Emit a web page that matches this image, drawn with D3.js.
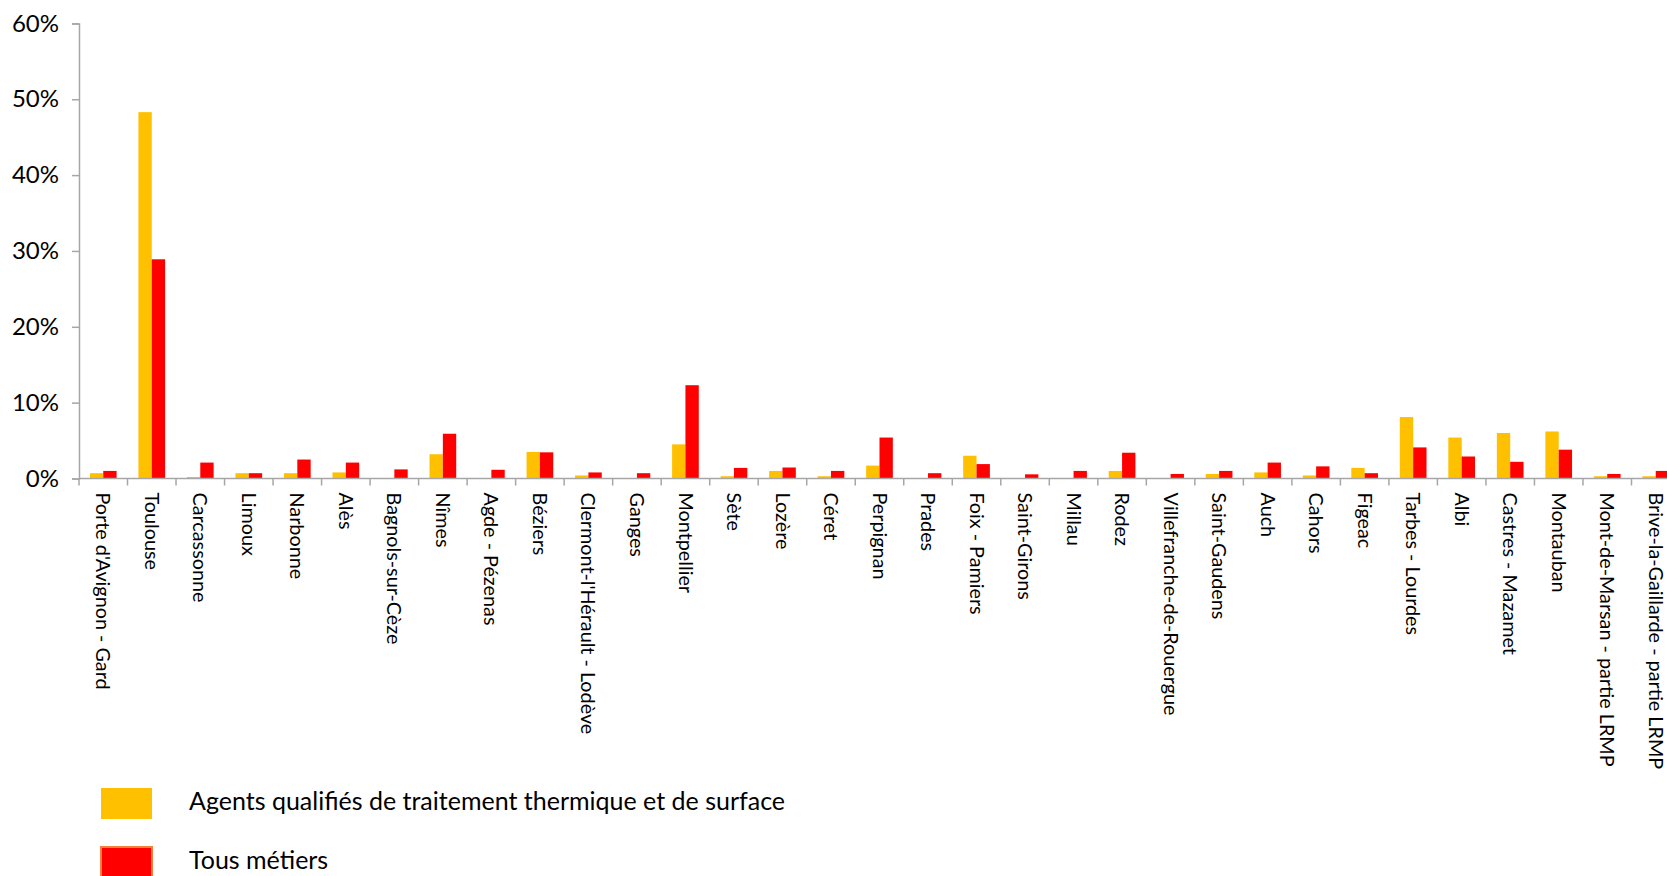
<!DOCTYPE html>
<html>
<head>
<meta charset="utf-8">
<script src="https://cdn.jsdelivr.net/npm/d3@7"></script>
<style>
  body { margin: 0; background: #fff; }
  text { font-family: Lato, "Open Sans", sans-serif; fill: #000; }
</style>
</head>
<body>
<div id="chart"></div>
<script>
const width = 1667, height = 876;

// data
const zones = [
  "Porte d'Avignon - Gard", "Toulouse", "Carcassonne", "Limoux", "Narbonne", "Alès",
  "Bagnols-sur-Cèze", "Nîmes", "Agde - Pézenas", "Béziers", "Clermont-l'Hérault - Lodève",
  "Ganges", "Montpellier", "Sète", "Lozère", "Céret", "Perpignan", "Prades", "Foix - Pamiers",
  "Saint-Girons", "Millau", "Rodez", "Villefranche-de-Rouergue", "Saint-Gaudens", "Auch",
  "Cahors", "Figeac", "Tarbes - Lourdes", "Albi", "Castres - Mazamet", "Montauban",
  "Mont-de-Marsan - partie LRMP", "Brive-la-Gaillarde - partie LRMP"
];
const agents = [
  0.7, 48.3, 0.2, 0.7, 0.7, 0.8, 0, 3.2, 0, 3.5, 0.4,
  0, 4.5, 0.3, 1.0, 0.3, 1.7, 0, 3.0, 0, 0, 1.0,
  0, 0.6, 0.8, 0.4, 1.4, 8.1, 5.4, 6.0, 6.2, 0.3, 0.3
];
const tous = [
  1.0, 28.9, 2.1, 0.7, 2.5, 2.1, 1.2, 5.9, 1.15, 3.45, 0.8,
  0.7, 12.3, 1.4, 1.45, 1.0, 5.4, 0.7, 1.9, 0.55, 1.0, 3.4,
  0.6, 1.0, 2.1, 1.6, 0.7, 4.1, 2.9, 2.2, 3.8, 0.6, 1.0
];
const seriesNames = ["Agents qualifiés de traitement thermique et de surface", "Tous métiers"];
const seriesColors = ["#FFC000", "#FF0000"];
const yTicks = [0, 10, 20, 30, 40, 50, 60];

const x0 = 79, x1 = 1680, yTop = 23.4, yBase = 478.5;
const axisColor = "#A6A6A6";

const svg = d3.select("#chart")
  .append("svg")
  .attr("width", width)
  .attr("height", height);

const x = d3.scaleBand()
  .domain(zones)
  .range([x0, x1])
  .paddingInner(0.45)
  .paddingOuter(0.225);

const xs = d3.scaleBand()
  .domain([0, 1])
  .range([0, x.bandwidth()]);

const y = d3.scaleLinear()
  .domain([0, 60])
  .range([yBase, yTop]);

// bars
const rows = zones.map((z, i) => ({ zone: z, values: [agents[i], tous[i]] }));

svg.append("g")
  .selectAll("g")
  .data(rows)
  .join("g")
  .attr("transform", d => `translate(${x(d.zone)},0)`)
  .selectAll("rect")
  .data(d => d.values.map((v, k) => ({ k, v })))
  .join("rect")
  .attr("x", d => xs(d.k))
  .attr("width", xs.bandwidth())
  .attr("y", d => y(d.v))
  .attr("height", d => yBase - y(d.v))
  .attr("fill", d => seriesColors[d.k]);

// y axis
const yAxis = svg.append("g")
  .attr("transform", `translate(${x0},0)`)
  .call(d3.axisLeft(y).tickValues(yTicks).tickFormat(d => d + "%").tickSize(7).tickPadding(13));
yAxis.select(".domain").attr("stroke", axisColor).attr("stroke-width", 1.5);
yAxis.selectAll(".tick line").attr("stroke", axisColor).attr("stroke-width", 1.5);
yAxis.selectAll(".tick text")
  .attr("font-size", 24)
  .attr("fill", "#000")
  .style("font-family", "Lato, sans-serif");

// x axis line and ticks at band boundaries
svg.append("line")
  .attr("x1", x0).attr("x2", x1)
  .attr("y1", yBase).attr("y2", yBase)
  .attr("stroke", axisColor).attr("stroke-width", 1.5);

svg.append("g")
  .selectAll("line")
  .data(zones)
  .join("line")
  .attr("x1", d => x(d) - x.step() * x.paddingOuter())
  .attr("x2", d => x(d) - x.step() * x.paddingOuter())
  .attr("y1", yBase).attr("y2", yBase + 7)
  .attr("stroke", axisColor).attr("stroke-width", 1.5);

// category labels
svg.append("g")
  .selectAll("text")
  .data(zones)
  .join("text")
  .attr("transform", d => `translate(${x(d) + x.bandwidth() / 2},${yBase + 14}) rotate(90)`)
  .attr("dy", "0.35em")
  .attr("font-size", 19.8)
  .text(d => d);

// legend
const legend = svg.append("g")
  .selectAll("g")
  .data(seriesNames)
  .join("g")
  .attr("transform", (d, i) => `translate(101,${788 + i * 59})`);

legend.append("rect")
  .attr("width", 51)
  .attr("height", 31)
  .attr("fill", (d, i) => seriesColors[i])
  .attr("stroke", (d, i) => i === 1 ? "#F4803A" : "none")
  .attr("stroke-width", 2);

legend.append("text")
  .attr("x", 88)
  .attr("y", 13)
  .attr("dy", "0.35em")
  .attr("font-size", 25)
  .text(d => d);
</script>
</body>
</html>
